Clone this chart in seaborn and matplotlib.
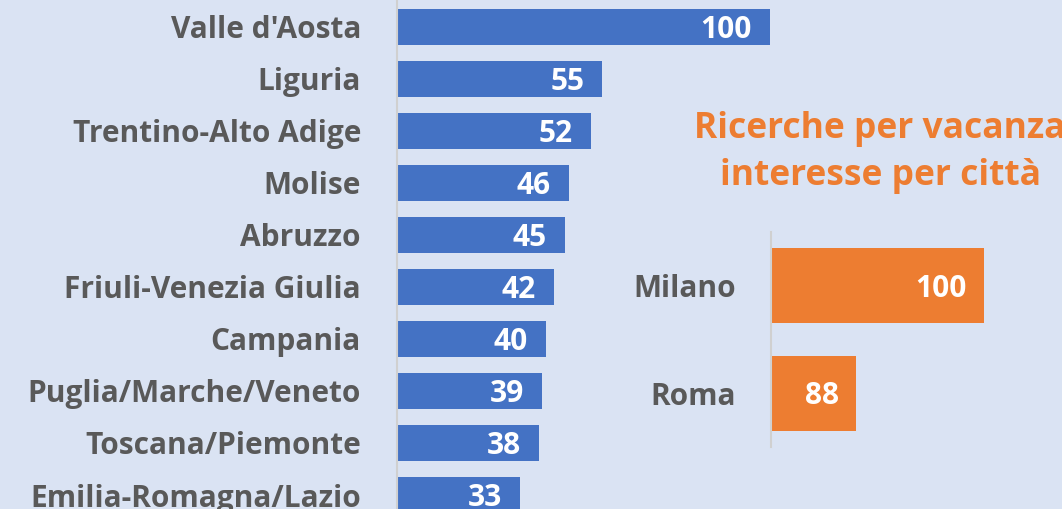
import matplotlib
matplotlib.use("Agg")
import matplotlib.pyplot as plt
import seaborn as sns
import pandas as pd

# data
regions = ["Valle d'Aosta", "Liguria", "Trentino-Alto Adige", "Molise", "Abruzzo",
           "Friuli-Venezia Giulia", "Campania", "Puglia/Marche/Veneto",
           "Toscana/Piemonte", "Emilia-Romagna/Lazio"]
region_values = [100, 55, 52, 46, 45, 42, 40, 39, 38, 33]

cities = ["Milano", "Roma"]
city_values = [100, 88]

inset_title = ["Ricerche per vacanza", "interesse per città"]

bg = "#DAE3F3"
blue = "#4472C4"
orange = "#ED7D31"
grey = "#595959"

sns.set_theme(style="white")
plt.rcParams["font.family"] = ["Open Sans", "DejaVu Sans"]

W, H = 1062, 509
fig = plt.figure(figsize=(W / 100, H / 100), dpi=100)
fig.patch.set_facecolor(bg)


def style_axes(ax, pad_px):
    ax.set_facecolor(bg)
    for s in ["top", "right", "bottom"]:
        ax.spines[s].set_visible(False)
    ax.spines["left"].set_color("#D0D0D0")
    ax.spines["left"].set_linewidth(1.5)
    ax.set_xlabel("")
    ax.set_ylabel("")
    ax.set_xticks([])
    ax.tick_params(axis="y", length=0, pad=pad_px * 0.72)
    for lbl in ax.get_yticklabels():
        lbl.set_fontweight("bold")
        lbl.set_color(grey)
        lbl.set_fontsize(21.5)


def value_labels(ax, values, dx):
    # white numbers sitting inside the end of each bar
    for i, v in enumerate(values):
        ax.annotate(str(v), (v, i), xytext=(dx, -8), textcoords="offset points",
                    ha="right", va="baseline", color="white", fontsize=21.5,
                    fontweight="bold")


# main chart (runs off the bottom edge like the reference)
ax1 = fig.add_axes([397 / W, (H - 521) / H, 373 / W, 520 / H])
df1 = pd.DataFrame({"regione": regions, "valore": region_values})
sns.barplot(data=df1, x="valore", y="regione", color=blue, saturation=1,
            width=0.69, orient="h", linewidth=0, ax=ax1)
ax1.set_xlim(0, 100)
ax1.set_ylim(len(regions) - 0.5, -0.5)
style_axes(ax1, 36)
value_labels(ax1, region_values, -13)

# inset chart
ax2 = fig.add_axes([771 / W, (H - 447) / H, 213 / W, 215 / H])
df2 = pd.DataFrame({"citta": cities, "valore": city_values})
sns.barplot(data=df2, x="valore", y="citta", color=orange, saturation=1,
            width=0.7, orient="h", linewidth=0, ax=ax2)
ax2.set_xlim(80, 100)
ax2.set_ylim(len(cities) - 0.5, -0.5)
style_axes(ax2, 35)
value_labels(ax2, city_values, -12.5)

for line, base_y in zip(inset_title, [138, 185]):
    fig.text(880 / W, 1 - base_y / H, line, ha="center", va="baseline",
             color=orange, fontsize=25.5, fontweight="bold")

fig.savefig("out.png", dpi=100, facecolor=bg)
